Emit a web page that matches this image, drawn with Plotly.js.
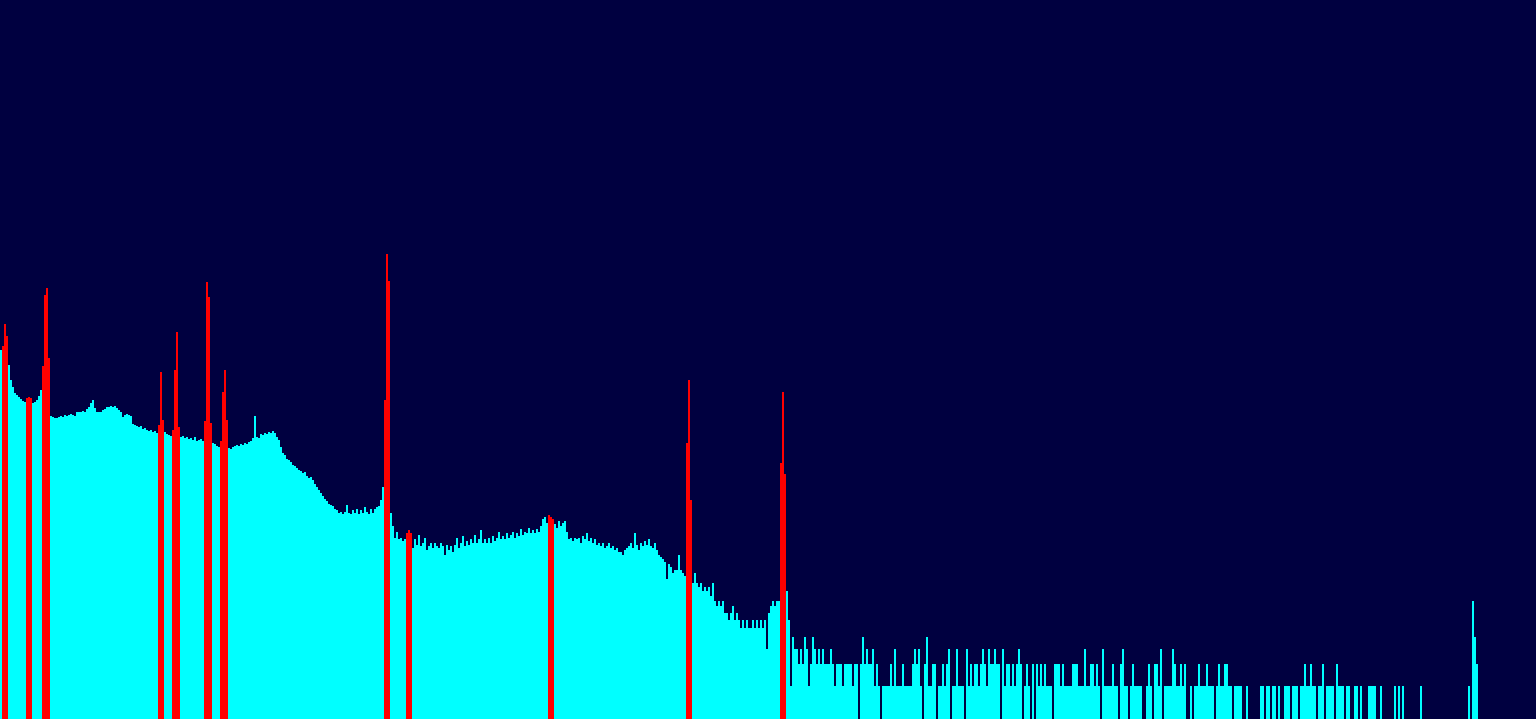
<!DOCTYPE html>
<html>
<head>
<meta charset="utf-8">
<script src="https://cdn.plot.ly/plotly-3.0.1.min.js"></script>
<style>
html,body{margin:0;padding:0;background:#000040;overflow:hidden;}
#chart{width:1536px;height:719px;}
</style>
</head>
<body>
<div id="chart"></div>
<script>
// Histogram counts per bin (bins 0..99)
const countsA = [1160,1100,1000,900,870,656,580,515,495,475,
457,440,430,449,445,440,425,430,449,485,
543,590,420,420,410,333,327,320,320,327,
333,327,340,333,340,347,340,333,355,355,
361,366,361,380,395,425,449,387,361,355,
361,372,380,395,395,402,395,402,387,372,
355,327,340,347,340,333,285,280,275,270,
275,260,265,255,250,255,245,250,240,240,
240,240,245,236,232,228,236,235,235,235,
224,228,219,224,215,219,210,224,206,210];
// bins 100..199
const countsB = [215,206,206,206,206,206,200,196,188,185,
192,190,190,190,181,178,185,188,192,188,
196,192,200,196,203,206,219,333,224,219,
236,232,240,236,245,240,250,240,224,210,
185,164,158,147,144,139,131,128,124,119,
117,113,115,106,102,104,99,92,87,82,
77,73,69,66,63,61,60,57,56,53,
54,52,54,62,53,52,56,53,57,52,
56,53,59,54,52,57,53,57,59,60,
67,87,80,80,80,53,41,33,37,32];
// bins 200..299
const countsC = [33,31,32,30,30,30,27,32,29,35,
28,30,33,26,28,30,27,30,28,27,
30,28,24,29,26,28,25,29,33,27,
30,34,28,31,29,32,30,35,30,32,
38,30,32,30,33,30,34,31,33,37,
32,34,32,36,33,35,37,33,36,34,
39,35,37,36,40,36,38,36,39,37,
41,47,49,44,45,45,45,43,40,45,
41,44,45,37,32,33,31,33,32,33,
30,34,32,36,31,33,30,32,29,30];
// bins 300..395
const countsD = [28,30,27,28,30,27,28,26,27,25,
25,24,26,27,28,30,27,36,29,26,
30,28,31,29,32,28,27,30,26,24,
23,22,21,15,20,19,17,18,18,24,
18,17,16,17,17,17,14,17,14,13,
14,12,13,12,13,11,14,10,9,10,
9,10,8,8,7,8,9,7,8,7,
6,7,6,7,6,6,7,6,7,6,
7,6,7,4,8,9,10,9,10,10,
9,9,9,12,7,2];
// bins 396..599
const countsE = [5,4,4,3,4,3,5,4,2,3,5,4,3,4,
3,4,3,3,3,4,3,2,3,3,
3,2,3,3,3,3,2,3,3,null,
3,5,3,4,3,3,4,2,3,2,
null,2,2,2,2,3,2,4,2,2,
2,3,2,2,2,2,3,4,3,4,
2,null,3,5,2,2,3,3,null,2,
2,3,2,3,4,null,2,2,4,2,
2,2,null,4,2,3,2,3,3,2,
3,4,3,2,4,3,3,4,3,3,
null,4,2,3,3,2,3,2,3,4,
3,null,2,3,2,null,3,null,3,2,
3,2,3,2,2,2,null,3,3,3,
2,3,2,2,2,2,3,3,3,2,
2,2,4,2,2,3,3,2,3,2,
null,4,2,2,2,2,3,2,2,null,
3,4,2,2,null,2,3,2,2,2,
2,null,null,2,3,2,null,3,3,2,
4,null,2,2,2,2,4,3,2,2,
3,2,3,null,null,2,null,2,2,3];
// bins 600..738
const countsF = [2,2,2,3,2,2,2,null,2,3,
2,2,3,3,2,2,null,2,2,2,
2,null,null,2,null,null,null,null,null,null,
2,2,null,2,2,null,2,2,null,2,
null,null,2,2,2,null,2,2,2,null,
2,2,3,2,2,3,2,2,null,2,
2,3,null,2,2,2,2,null,3,2,
2,2,null,2,2,null,null,2,2,null,
2,null,null,null,2,2,2,2,null,null,
2,null,null,null,null,null,null,2,null,2,
null,2,null,null,null,null,null,null,null,null,
2,null,null,null,null,null,null,null,null,null,
null,null,null,null,null,null,null,null,null,null,
null,null,null,null,2,null,10,5,3];
// highlighted (red) bins and their counts
const redBins   = [1,2,3,13,14,15,21,22,23,24,79,80,81,86,87,88,89,102,103,104,105,110,111,112,113,192,193,194,203,204,205,274,275,276,343,344,345,390,391,392];
const redCounts = [1250,1900,1500,470,475,465,855,3300,3750,1000,280,760,310,255,800,1630,270,300,4200,3160,290,205,520,790,310,450,7100,4300,36,38,36,51,49,47,200,656,67,135,523,110];

const counts = [].concat(countsA, countsB, countsC, countsD, countsE, countsF);
const bins = counts.map((_, i) => i);

const traces = [
  {type:'bar', x: bins, y: counts, width: 1,
   marker:{color:'#00ffff', line:{width:0}}, hoverinfo:'skip'},
  {type:'bar', x: redBins, y: redCounts, width: 1,
   marker:{color:'#ff0000', line:{width:0}}, hoverinfo:'skip'}
];
const layout = {
  width:1536, height:719,
  margin:{l:0,r:0,t:0,b:0,pad:0},
  paper_bgcolor:'#000040', plot_bgcolor:'#000040',
  showlegend:false, barmode:'overlay', bargap:0,
  xaxis:{visible:false, range:[-0.5,767.5], fixedrange:true},
  yaxis:{visible:false, type:'log', range:[0.027,5.945], fixedrange:true}
};
Plotly.newPlot('chart', traces, layout, {staticPlot:true, displayModeBar:false});
</script>
</body>
</html>
